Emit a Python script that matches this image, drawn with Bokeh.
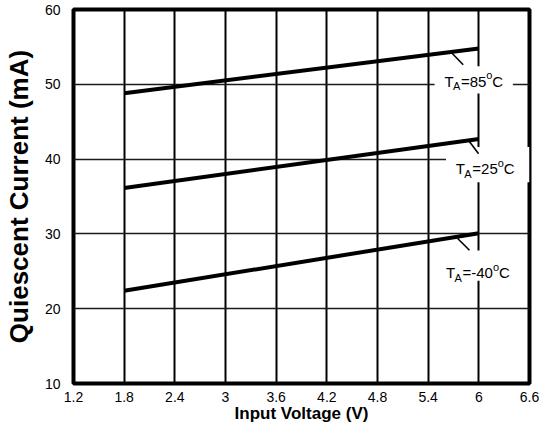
from bokeh.plotting import figure
from bokeh.models import FixedTicker, CustomJSTickFormatter, Range1d
from bokeh.core.properties import value
from bokeh.embed import file_html
from bokeh.resources import INLINE

# ---- data ----
x_ticks = [1.2, 1.8, 2.4, 3, 3.6, 4.2, 4.8, 5.4, 6, 6.6]
y_ticks = [10, 20, 30, 40, 50, 60]
voltage = [1.8, 6.0]
i_85 = [48.8, 54.8]
i_25 = [36.15, 42.7]
i_m40 = [22.4, 30.1]
temps = ["85", "25", "-40"]

FONT = value("Liberation Sans")

p = figure(width=542, height=428, output_backend="svg", toolbar_location=None,
           x_range=Range1d(1.2, 6.6), y_range=Range1d(10, 60),
           min_border_left=63, min_border_right=13, min_border_top=9, min_border_bottom=45)
p.background_fill_color = "white"
p.border_fill_color = "white"
p.outline_line_color = "black"
p.outline_line_width = 4

p.xaxis.ticker = FixedTicker(ticks=x_ticks)
p.yaxis.ticker = FixedTicker(ticks=y_ticks)
p.xaxis.formatter = CustomJSTickFormatter(code="return tick.toString()")
p.yaxis.formatter = CustomJSTickFormatter(code="return tick.toString()")
for ax in (p.xaxis, p.yaxis):
    ax.axis_line_color = None
    ax.major_tick_line_color = None
    ax.minor_tick_line_color = None
    ax.major_tick_out = 0
    ax.major_tick_in = 0
    ax.minor_tick_out = 0
    ax.major_label_text_font = "Liberation Sans"
    ax.major_label_text_font_size = "14px"
    ax.major_label_text_color = "black"
    ax.axis_label_text_font = "Liberation Sans"
    ax.axis_label_text_font_style = "bold"
    ax.axis_label_text_color = "black"
p.xaxis.major_label_standoff = 8
p.yaxis.major_label_standoff = 13
p.yaxis.axis_label = "Quiescent Current (mA)"
p.yaxis.axis_label_text_font_size = "26px"
p.yaxis.axis_label_standoff = 8
p.xaxis.axis_label = "Input Voltage (V)"
p.xaxis.axis_label_text_font_size = "17px"
p.xaxis.axis_label_standoff = -1

p.xgrid.ticker = FixedTicker(ticks=x_ticks)
p.ygrid.ticker = FixedTicker(ticks=y_ticks)
p.xgrid.grid_line_color = "black"
p.xgrid.grid_line_width = 2
p.ygrid.grid_line_color = "#1a1a1a"
p.ygrid.grid_line_width = 1.6

for ys in (i_85, i_25, i_m40):
    p.line(voltage, ys, line_color="black", line_width=4)

# label positions (data coords): white box, leader line, text anchor
boxes = [(5.476, 6.403, 48.76, 52.40), (5.611, 6.6, 36.92, 41.63), (5.476, 6.52, 23.73, 27.77)]
leaders = [(5.680, 54.19, 5.815, 52.62), (5.881, 42.44, 5.997, 40.73), (5.746, 29.42, 5.889, 27.81)]
anchors = [(5.592, 50.38), (5.727, 38.71), (5.611, 24.80)]

for (l, r, b, t) in boxes:
    p.quad(left=[l], right=[r], bottom=[b], top=[t], fill_color="white", line_color=None)
for (x0, y0, x1, y1) in leaders:
    p.segment(x0=[x0], y0=[y0], x1=[x1], y1=[y1], line_color="black", line_width=1.6)

for temp, (ax_, ay_) in zip(temps, anchors):
    eq = "=" + temp
    eq_w = 0.584 * 15 + sum(0.333 * 15 if ch == "-" else 0.556 * 15 for ch in temp)
    parts = [("T", 0, 0, "15px"), ("A", 8.5, 5, "11px"), (eq, 16.5, 0, "15px"),
             ("o", 16.5 + eq_w, -6, "11px"), ("C", 16.5 + eq_w + 6, 0, "15px")]
    for txt, xo, yo, fs in parts:
        p.text(x=[ax_], y=[ay_], text=[txt], x_offset=xo, y_offset=yo,
               text_font=FONT, text_font_size=fs, text_color="black",
               text_baseline="alphabetic", text_align="left")

open("out.html", "w").write(file_html(p, INLINE))
